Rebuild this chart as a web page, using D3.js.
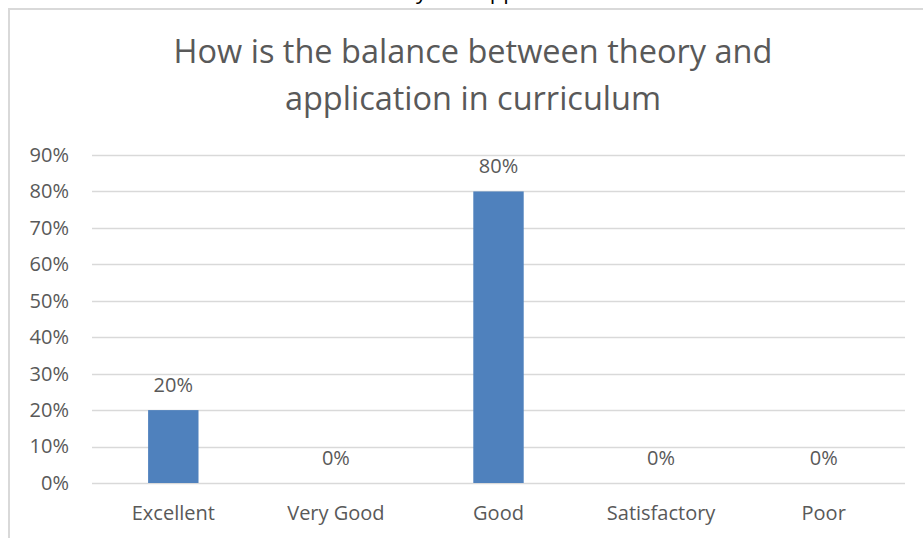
<!DOCTYPE html>
<html><head><meta charset="utf-8">
<script src="https://cdn.jsdelivr.net/npm/d3@7"></script>
<style>
html,body{margin:0;padding:0;background:#fff;}
svg{display:block;font-family:"Open Sans",sans-serif;}
</style></head>
<body>
<svg id="chart" width="923" height="538"></svg>
<script>
const titleLines = ["How is the balance between theory and", "application in curriculum"];
const categories = ["Excellent", "Very Good", "Good", "Satisfactory", "Poor"];
const values = [0.20, 0.00, 0.80, 0.00, 0.00];
const yTicks = [0, 0.1, 0.2, 0.3, 0.4, 0.5, 0.6, 0.7, 0.8, 0.9];

const svg = d3.select("#chart");
const W = 923, H = 538;
const m = {left: 92, right: 18, top: 155, bottom: 55};

// clipped text remnant at top (partly outside the picture in the reference)
svg.append("text").attr("x", 416).attr("y", -1)
  .attr("font-size", 22).attr("fill", "#000").text("y and appl");

// chart frame
svg.append("rect").attr("x", 9).attr("y", 9).attr("width", W + 10).attr("height", H + 10)
  .attr("fill", "#fff").attr("stroke", "#d9d9d9").attr("stroke-width", 2);

const x = d3.scaleBand().domain(categories).range([m.left, W - m.right]).paddingInner(0.69).paddingOuter(0.345);
const y = d3.scaleLinear().domain([0, 0.9]).range([H - m.bottom, m.top]);

// gridlines
svg.append("g").selectAll("line").data(yTicks).join("line")
  .attr("x1", m.left).attr("x2", W - m.right)
  .attr("y1", d => Math.round(y(d)) + 0.5).attr("y2", d => Math.round(y(d)) + 0.5)
  .attr("stroke", "#d9d9d9").attr("stroke-width", 1.5);

// y axis
const yAxis = d3.axisLeft(y).tickValues(yTicks).tickFormat(d3.format(".0%")).tickSize(0).tickPadding(0);
const gy = svg.append("g").attr("transform", `translate(69,0)`).call(yAxis);
gy.select(".domain").remove();
gy.selectAll("text").attr("fill", "#595959").attr("font-size", 20).attr("font-family", "Open Sans");

// x axis
const xAxis = d3.axisBottom(x).tickSize(0).tickPadding(0);
const gx = svg.append("g").attr("transform", `translate(0,${H - m.bottom})`).call(xAxis);
gx.select(".domain").remove();
gx.selectAll("text").attr("fill", "#595959").attr("font-size", 20).attr("font-family", "Open Sans")
  .attr("dy", null).attr("y", 37);

// bars
svg.append("g").selectAll("rect").data(values).join("rect")
  .attr("x", (d, i) => x(categories[i]))
  .attr("width", x.bandwidth())
  .attr("y", d => y(d))
  .attr("height", d => y(0) - y(d))
  .attr("fill", "#4f81bd");

// data labels
svg.append("g").selectAll("text").data(values).join("text")
  .attr("x", (d, i) => x(categories[i]) + x.bandwidth() / 2)
  .attr("y", d => y(d) - 18)
  .attr("text-anchor", "middle")
  .attr("fill", "#595959").attr("font-size", 20)
  .text(d => d3.format(".0%")(d));

// title
svg.append("g").selectAll("text").data(titleLines).join("text")
  .attr("x", 473).attr("y", (d, i) => 63 + i * 47)
  .attr("text-anchor", "middle")
  .attr("fill", "#595959").attr("font-size", 32.5)
  .text(d => d);
</script>
</body></html>
